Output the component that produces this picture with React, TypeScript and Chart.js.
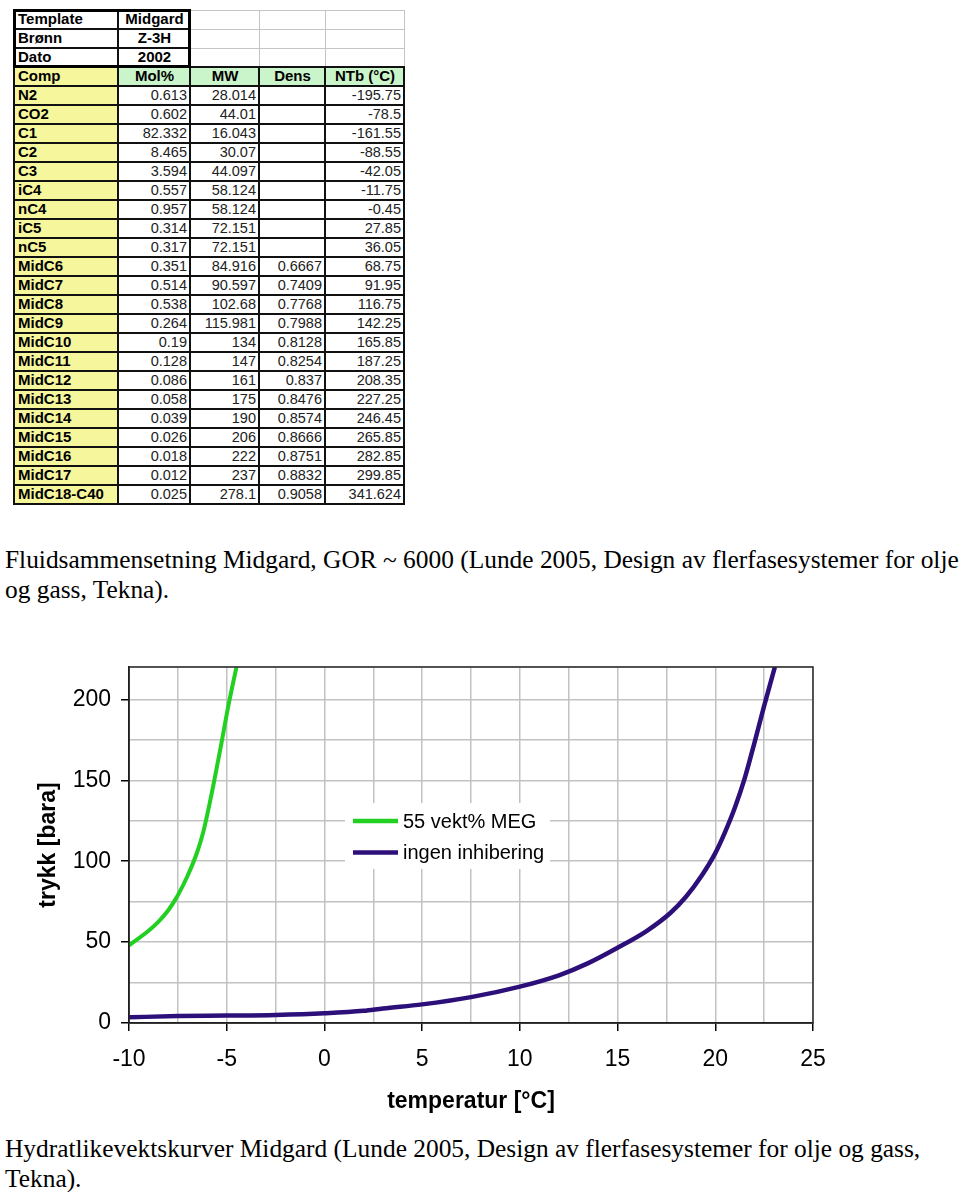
import React, { useEffect, useRef } from "react";
import { Chart, registerables } from "chart.js";

Chart.register(...registerables);

// ---------- table data ----------
const headerLabels = ["Template", "Brønn", "Dato"];
const headerValues = ["Midgard", "Z-3H", "2002"];
const columnTitles = ["Comp", "Mol%", "MW", "Dens", "NTb (°C)"];
const components = ["N2", "CO2", "C1", "C2", "C3", "iC4", "nC4", "iC5", "nC5", "MidC6", "MidC7", "MidC8", "MidC9", "MidC10", "MidC11", "MidC12", "MidC13", "MidC14", "MidC15", "MidC16", "MidC17", "MidC18-C40"];
const molPercent = [0.613, 0.602, 82.332, 8.465, 3.594, 0.557, 0.957, 0.314, 0.317, 0.351, 0.514, 0.538, 0.264, 0.19, 0.128, 0.086, 0.058, 0.039, 0.026, 0.018, 0.012, 0.025];
const molWeight = [28.014, 44.01, 16.043, 30.07, 44.097, 58.124, 58.124, 72.151, 72.151, 84.916, 90.597, 102.68, 115.981, 134, 147, 161, 175, 190, 206, 222, 237, 278.1];
const density = [null, null, null, null, null, null, null, null, null, 0.6667, 0.7409, 0.7768, 0.7988, 0.8128, 0.8254, 0.837, 0.8476, 0.8574, 0.8666, 0.8751, 0.8832, 0.9058];
const boilingPoint = [-195.75, -78.5, -161.55, -88.55, -42.05, -11.75, -0.45, 27.85, 36.05, 68.75, 91.95, 116.75, 142.25, 165.85, 187.25, 208.35, 227.25, 246.45, 265.85, 282.85, 299.85, 341.624];

// ---------- chart data ----------
const megLabel = "55 vekt% MEG";
const megTemps = [-10, -9, -8.5, -8, -7.5, -7, -6.5, -6.2, -5.7, -5.3, -4.9, -4.5];
const megPressures = [48, 57, 62.5, 69.5, 79, 91, 106, 118, 146, 171, 197, 220];
const pureLabel = "ingen inhibering";
const pureTemps = [-10, -7.5, -5, -2.5, 0, 2, 3, 5, 7.5, 10, 12, 13.5, 15, 16.5, 17.7, 18.5, 19.3, 20, 20.5, 21, 21.5, 22, 22.5, 23.05];
const purePressures = [3.5, 4.3, 4.6, 5, 6, 7.5, 9, 11.5, 16, 22.5, 29.5, 37, 46.5, 57, 68, 78, 91, 105, 118, 133, 151, 173, 196, 220];
const xTitle = "temperatur [°C]";
const yTitle = "trykk [bara]";

const caption1 = ["Fluidsammensetning Midgard, GOR ~ 6000 (Lunde 2005, Design av flerfasesystemer for olje", "og gass, Tekna)."];
const caption2 = ["Hydratlikevektskurver Midgard (Lunde 2005, Design av flerfasesystemer for olje og gass,", "Tekna)."];

const SANS = '"Liberation Sans", Arial, sans-serif';
const SERIF = '"Liberation Serif", "Times New Roman", serif';

const colX = [14, 118, 190, 259, 325, 404];
const rowTop = 10;
const rowH = 19;

type CellOpts = {
  bg?: string;
  bold?: boolean;
  align?: "left" | "right" | "center";
  gray?: boolean;
  size?: number;
};

function Cell({ c, r, text, opts }: { c: number; r: number; text: string; opts: CellOpts }) {
  const x0 = colX[c];
  const x1 = colX[c + 1];
  const y0 = rowTop + r * rowH;
  const y1 = y0 + rowH;
  const gray = !!opts.gray;
  return (
    <div
      style={{
        position: "absolute",
        left: gray ? x0 : x0 - 1,
        top: gray ? y0 : y0 - 1,
        width: gray ? x1 - x0 + 1 : x1 - x0 + 2,
        height: gray ? y1 - y0 + 1 : y1 - y0 + 2,
        boxSizing: "border-box",
        border: gray ? "1px solid #c4c4c4" : "2px solid #111",
        background: opts.bg || "transparent",
        fontFamily: SANS,
        fontSize: opts.size || 15,
        fontWeight: opts.bold ? "bold" : "normal",
        color: opts.bold ? "#000" : "#222",
        textAlign: opts.align || "left",
        lineHeight: rowH - 3 + "px",
        padding: "0 2px 0 3px",
        whiteSpace: "nowrap",
        overflow: "hidden",
      }}
    >
      {text}
    </div>
  );
}

const YELLOW = "#f6f69c";
const GREEN = "#caf4ca";

function DataTable() {
  const cells: React.ReactNode[] = [];
  for (let r = 0; r < 3; r++) {
    for (let c = 2; c < 5; c++) {
      cells.push(<Cell key={`g${r}${c}`} c={c} r={r} text="" opts={{ gray: true }} />);
    }
  }
  headerLabels.forEach((lab, r) => {
    cells.push(<Cell key={`hl${r}`} c={0} r={r} text={lab} opts={{ bold: true, bg: "#fff" }} />);
    cells.push(<Cell key={`hv${r}`} c={1} r={r} text={headerValues[r]} opts={{ bold: true, align: "center", bg: "#fff" }} />);
  });
  columnTitles.forEach((t, c) => {
    cells.push(
      <Cell key={`ct${c}`} c={c} r={3} text={t} opts={{ bold: true, bg: c === 0 ? YELLOW : GREEN, align: c === 0 ? "left" : "center" }} />
    );
  });
  components.forEach((comp, i) => {
    const r = i + 4;
    cells.push(<Cell key={`c${i}`} c={0} r={r} text={comp} opts={{ bold: true, bg: YELLOW }} />);
    cells.push(<Cell key={`m${i}`} c={1} r={r} text={String(molPercent[i])} opts={{ align: "right", size: 14.5 }} />);
    cells.push(<Cell key={`w${i}`} c={2} r={r} text={String(molWeight[i])} opts={{ align: "right", size: 14.5 }} />);
    cells.push(<Cell key={`d${i}`} c={3} r={r} text={density[i] == null ? "" : String(density[i])} opts={{ align: "right", size: 14.5 }} />);
    cells.push(<Cell key={`b${i}`} c={4} r={r} text={String(boilingPoint[i])} opts={{ align: "right", size: 14.5 }} />);
  });
  return (
    <>
      {cells}
      <div
        style={{
          position: "absolute",
          left: colX[0] - 1,
          top: rowTop - 1,
          width: colX[2] - colX[0] + 2,
          height: rowH * 3 + 2,
          boxSizing: "border-box",
          border: "3px solid #000",
        }}
      />
    </>
  );
}

const insideLegend = {
  id: "insideLegend",
  afterDatasetsDraw(chart: any) {
    const { ctx, chartArea } = chart;
    const left = chartArea.left + 216;
    const top = chartArea.top + 136;
    ctx.save();
    ctx.fillStyle = "#fff";
    ctx.fillRect(left, top, 205, 66);
    chart.data.datasets.forEach((ds: any, i: number) => {
      const y = top + 18 + i * 31.5;
      ctx.strokeStyle = ds.borderColor;
      ctx.lineWidth = 4.5;
      ctx.beginPath();
      ctx.moveTo(left + 8, y);
      ctx.lineTo(left + 53, y);
      ctx.stroke();
      ctx.fillStyle = "#000";
      ctx.font = `20px ${SANS}`;
      ctx.textBaseline = "middle";
      ctx.textAlign = "left";
      ctx.fillText(ds.label, left + 58, y + 1);
    });
    ctx.restore();
  },
  afterDraw(chart: any) {
    const { ctx, chartArea } = chart;
    ctx.save();
    ctx.strokeStyle = "#2a2a2a";
    ctx.lineWidth = 1.5;
    ctx.strokeRect(chartArea.left, chartArea.top, chartArea.right - chartArea.left, chartArea.bottom - chartArea.top);
    ctx.restore();
  },
};

function HydrateChart() {
  const ref = useRef<HTMLCanvasElement | null>(null);
  useEffect(() => {
    if (!ref.current) return;
    const chart = new Chart(ref.current, {
      type: "line",
      data: {
        datasets: [
          {
            label: megLabel,
            data: megTemps.map((t, i) => ({ x: t, y: megPressures[i] })),
            borderColor: "#22d022",
            borderWidth: 4,
            pointRadius: 0,
            cubicInterpolationMode: "monotone",
            fill: false,
          },
          {
            label: pureLabel,
            data: pureTemps.map((t, i) => ({ x: t, y: purePressures[i] })),
            borderColor: "#2c0f78",
            borderWidth: 4.5,
            pointRadius: 0,
            cubicInterpolationMode: "monotone",
            fill: false,
          },
        ],
      },
      options: {
        animation: false,
        responsive: false,
        layout: { padding: { top: 37, right: 47, left: 0, bottom: 0 } },
        plugins: { legend: { display: false }, tooltip: { enabled: false } },
        scales: {
          x: {
            type: "linear",
            min: -10,
            max: 25,
            ticks: {
              stepSize: 2.5,
              autoSkip: false,
              maxRotation: 0,
              padding: 15,
              color: "#000",
              font: { size: 23, family: SANS },
              callback: (v: any) => (Number(v) % 5 === 0 ? String(v) : ""),
            },
            grid: {
              color: "#c2c2c2",
              lineWidth: 1.5,
              tickLength: 8,
              tickWidth: 1.5,
              tickColor: (ctx: any) => (ctx.tick && ctx.tick.value % 5 === 0 ? "#000" : "rgba(0,0,0,0)"),
            },
            border: { color: "#000", width: 1.5 },
            title: {
              display: true,
              text: xTitle,
              color: "#000",
              font: { size: 23, weight: "bold", family: SANS },
              padding: { top: 0, bottom: 15 },
            },
            afterFit: (s: any) => {
              s.height = 107;
            },
          },
          y: {
            type: "linear",
            min: 0,
            max: 220,
            ticks: {
              stepSize: 25,
              autoSkip: false,
              padding: 10,
              color: "#000",
              font: { size: 23, family: SANS },
              callback: (v: any) => (Number(v) % 50 === 0 ? String(v) : ""),
            },
            grid: {
              color: "#c2c2c2",
              lineWidth: 1.5,
              tickLength: 8,
              tickWidth: 1.5,
              tickColor: (ctx: any) => (ctx.tick && ctx.tick.value % 50 === 0 ? "#000" : "rgba(0,0,0,0)"),
            },
            border: { color: "#000", width: 1.5 },
            title: {
              display: true,
              text: yTitle,
              color: "#000",
              font: { size: 23, weight: "bold", family: SANS },
              padding: { top: 35, bottom: 0 },
            },
            afterFit: (s: any) => {
              s.width = 129;
            },
          },
        },
      } as any,
      plugins: [insideLegend],
    });
    return () => chart.destroy();
  }, []);
  return (
    <canvas
      ref={ref}
      width={860}
      height={500}
      style={{ position: "absolute", left: 0, top: 630, width: 860, height: 500 }}
    />
  );
}

function Caption({ lines, top }: { lines: string[]; top: number }) {
  return (
    <div
      style={{
        position: "absolute",
        left: 5,
        top,
        fontFamily: SERIF,
        fontSize: 25.4,
        lineHeight: "30px",
        color: "#000",
        whiteSpace: "nowrap",
      }}
    >
      {lines.map((l, i) => (
        <div key={i}>{l}</div>
      ))}
    </div>
  );
}

export default function App() {
  return (
    <div
      style={{
        position: "absolute",
        left: 0,
        top: 0,
        width: 960,
        height: 1192,
        overflow: "hidden",
        background: "#fff",
      }}
    >
      <DataTable />
      <Caption lines={caption1} top={543.5} />
      <HydrateChart />
      <Caption lines={caption2} top={1132.5} />
    </div>
  );
}
